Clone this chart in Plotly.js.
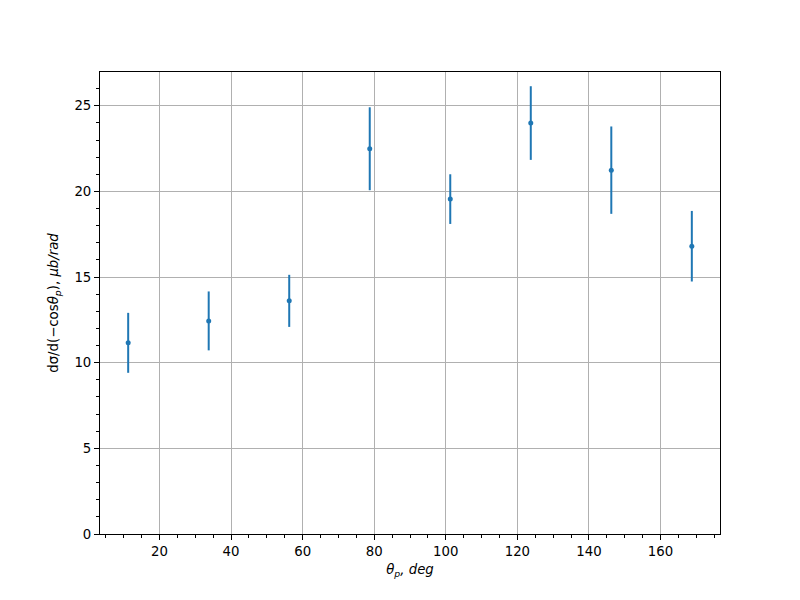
<!DOCTYPE html>
<html>
<head>
<meta charset="utf-8">
<script src="https://cdn.plot.ly/plotly-3.0.1.min.js"></script>
<style>body{margin:0;padding:0;background:#fff;}#chart{width:800px;height:600px;}</style>
</head>
<body>
<div id="chart"></div>
<script>
const theta = [11.25, 33.75, 56.25, 78.75, 101.25, 123.75, 146.25, 168.75];
const xsec = [11.16, 12.44, 13.61, 22.49, 19.55, 23.99, 21.24, 16.80];
const xsecErr = [1.75, 1.72, 1.52, 2.42, 1.45, 2.15, 2.55, 2.06];

const trace = {
  x: theta, y: xsec, type: 'scatter', mode: 'markers',
  marker: {color: '#1f77b4', size: 5},
  error_y: {type: 'data', array: xsecErr, visible: true, color: '#1f77b4', thickness: 2, width: 0},
  showlegend: false
};

const font = {family: 'DejaVu Sans', size: 13.3, color: '#000'};
const layout = {
  width: 800, height: 600,
  margin: {l: 100, r: 80, t: 72, b: 66},
  paper_bgcolor: '#fff', plot_bgcolor: '#fff',
  font: font,
  xaxis: {
    range: [3.375, 176.625], tick0: 0, dtick: 20,
    showgrid: true, gridcolor: '#b0b0b0', gridwidth: 1,
    showline: true, linecolor: '#000', linewidth: 1, mirror: true,
    ticks: 'outside', ticklen: 5, tickwidth: 1, tickcolor: '#000',
    minor: {dtick: 5, ticks: 'outside', ticklen: 3, tickwidth: 1, tickcolor: '#000', showgrid: false},
    zeroline: false,
    title: {text: '<i>θ</i><sub><i>p</i></sub><i>, deg</i>', font: font, standoff: 6}
  },
  yaxis: {
    range: [0, 26.97], tick0: 0, dtick: 5,
    showgrid: true, gridcolor: '#b0b0b0', gridwidth: 1,
    showline: true, linecolor: '#000', linewidth: 1, mirror: true,
    ticks: 'outside', ticklen: 5, tickwidth: 1, tickcolor: '#000',
    minor: {dtick: 1, ticks: 'outside', ticklen: 3, tickwidth: 1, tickcolor: '#000', showgrid: false},
    zeroline: false,
    title: {text: 'dσ/d(−cos<i>θ</i><sub><i>p</i></sub>), <i>μb/rad</i>', font: font, standoff: 12}
  }
};

Plotly.newPlot('chart', [trace], layout, {displayModeBar: false, staticPlot: true});
</script>
</body>
</html>
